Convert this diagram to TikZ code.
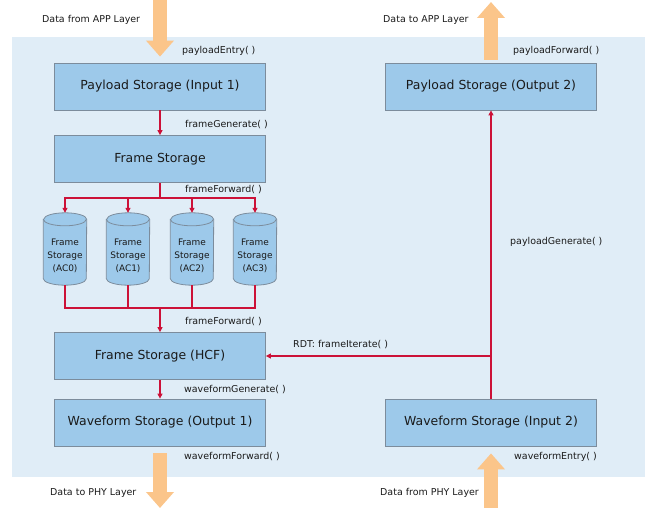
\documentclass[tikz,border=0pt]{standalone}
\usepackage{fontspec}
\setmainfont{DejaVu Sans}
\usetikzlibrary{arrows.meta}
\definecolor{panel}{HTML}{E0EDF7}
\definecolor{boxfill}{HTML}{9DC9EA}
\definecolor{boxline}{HTML}{7C8C9C}
\definecolor{flowred}{HTML}{CC1138}
\definecolor{bigorange}{HTML}{FBC58A}
\definecolor{labeltext}{HTML}{1A1A1A}
\tikzset{
  storagebox/.style={draw=boxline, fill=boxfill, line width=0.8bp,
    minimum width=211bp, minimum height=47bp, inner sep=0pt,
    font=\fontsize{12.5}{14}\selectfont, text=labeltext},
  queuenode/.style={minimum width=43bp, minimum height=72bp, inner sep=0pt},
  queuetext/.style={align=center, font=\fontsize{9}{13}\selectfont, text=labeltext},
  flow/.style={draw=flowred, line width=1.2bp, -{Triangle[length=5bp,width=5bp]}},
  flowline/.style={draw=flowred, line width=1.2bp},
  fn/.style={anchor=west, font=\fontsize{9.5}{11}\selectfont, text=labeltext, inner sep=0pt},
  layerarrow/.style={draw=bigorange, line width=14bp,
    -{Triangle[length=16bp,width=27bp]}},
}
\newcommand{\queueshape}[1]{%
  \filldraw[draw=boxline, fill=boxfill, line width=0.8bp]
    ([yshift=-6.5bp]#1.north west) -- ([yshift=6.5bp]#1.south west)
    arc[start angle=180, end angle=360, x radius=21.5bp, y radius=6.5bp]
    -- ([yshift=-6.5bp]#1.north east)
    arc[start angle=0, end angle=180, x radius=21.5bp, y radius=6.5bp] -- cycle;
  \draw[draw=boxline, line width=0.8bp]
    ([yshift=-6.5bp]#1.north west)
    arc[start angle=180, end angle=360, x radius=21.5bp, y radius=6.5bp];
}
\begin{document}
\begin{tikzpicture}[x=1bp, y=-1bp]
\useasboundingbox (0,0) rectangle (650,508);
\fill[panel] (12,37) rectangle (645,477);

% storage blocks
\node[storagebox] (pin1)  at (160,86.5)  {Payload Storage (Input 1)};
\node[storagebox] (pout2) at (491,86.5)  {Payload Storage (Output 2)};
\node[storagebox] (fs)    at (160,159)   {Frame Storage};
\node[storagebox] (hcf)   at (160,356)   {Frame Storage (HCF)};
\node[storagebox] (wout1) at (160,422.5) {Waveform Storage (Output 1)};
\node[storagebox] (win2)  at (491,422.5) {Waveform Storage (Input 2)};

% access-category queues
\foreach \name/\cx/\lab in {ac0/65/AC0, ac1/128/AC1, ac2/192/AC2, ac3/255/AC3}{
  \node[queuenode] (\name) at (\cx,249) {};
  \queueshape{\name}
  \node[queuetext] at (\cx,256) {Frame\\Storage\\(\lab)};
}

% frame path
\coordinate (fsplit) at (160,198);
\coordinate (fjoin) at (160,308);
\draw[flow] (pin1.south) -- (fs.north);
\draw[flowline] (fs.south) -- (fsplit);
\foreach \q in {ac0,ac1,ac2,ac3}{
  \draw[flow] (fsplit) -| (\q.north);
  \draw[flowline] (\q.south) |- (fjoin);
}
\draw[flow] (fjoin) -- (hcf.north);
\draw[flow] (hcf.south) -- (wout1.north);
\draw[flow] (win2.north) -- (pout2.south);
\coordinate (tap) at (win2.north |- hcf.east);
\draw[flow] (tap) -- (hcf.east);

% layer interfaces
\coordinate (appin) at (160,0);
\coordinate (appout) at (491,2);
\coordinate (phyout) at (160,508);
\coordinate (phyin) at (491,508);
\draw[layerarrow, shorten >=6bp] (appin) -- (pin1.north);
\draw[layerarrow, shorten <=3bp] (pout2.north) -- (appout);
\draw[layerarrow, shorten <=7bp] (wout1.south) -- (phyout);
\draw[layerarrow, shorten >=7bp] (phyin) -- (win2.south);

% function labels
\node[fn] at (182,51)  {payloadEntry( )};
\node[fn] at (185,125) {frameGenerate( )};
\node[fn] at (185,190) {frameForward( )};
\node[fn] at (185,322) {frameForward( )};
\node[fn] at (293,345) {RDT: frameIterate( )};
\node[fn] at (184,390) {waveformGenerate( )};
\node[fn] at (184,457) {waveformForward( )};
\node[fn] at (513,51)  {payloadForward( )};
\node[fn] at (510,242) {payloadGenerate( )};
\node[fn] at (514,457) {waveformEntry( )};

% layer labels
\node[fn] at (42,20)  {Data from APP Layer};
\node[fn] at (383,20) {Data to APP Layer};
\node[fn] at (50,493) {Data to PHY Layer};
\node[fn] at (380,493){Data from PHY Layer};
\end{tikzpicture}
\end{document}
